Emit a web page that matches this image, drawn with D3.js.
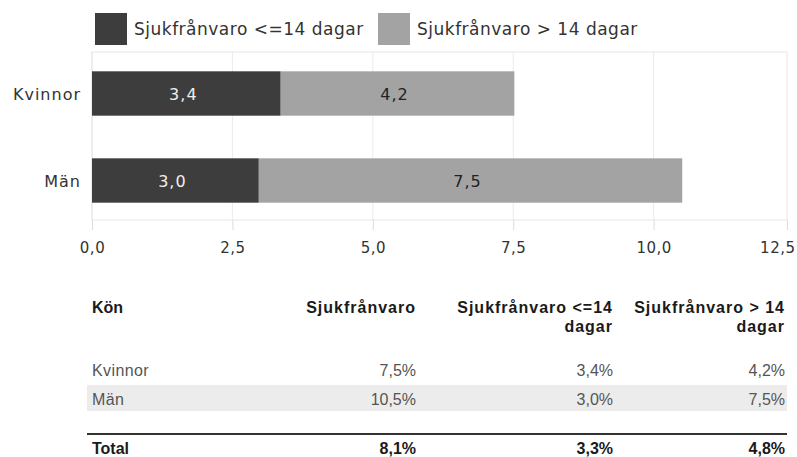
<!DOCTYPE html>
<html>
<head>
<meta charset="utf-8">
<script src="https://cdn.jsdelivr.net/npm/d3@7"></script>
<style>
  body { margin: 0; background: #fff; }
  svg { display: block; }
  .chart-text { font-family: "DejaVu Sans", Verdana, sans-serif; fill: #333; }
  .table-text { font-family: "Liberation Sans", Arial, sans-serif; }
</style>
</head>
<body>
<div id="chart"></div>
<script>
// chart data (bar lengths, labels round them)
var categories = ["Kvinnor", "Män"];
var seriesNames = ["Sjukfrånvaro <=14 dagar", "Sjukfrånvaro > 14 dagar"];
var shortAbsence = [3.36, 2.97];   // <=14 dagar
var longAbsence = [4.16, 7.54];    // > 14 dagar
var xTicks = [0, 2.5, 5, 7.5, 10, 12.5];

// table data
var tableHeaders = [["Kön"], ["Sjukfrånvaro"], ["Sjukfrånvaro <=14", "dagar"], ["Sjukfrånvaro > 14", "dagar"]];
var totalLabel = "Total";
var totalValues = [8.1, 3.3, 4.8];

var svgWidth = 797;
var svgHeight = 457;

var svg = d3.select("#chart")
  .append("svg")
    .attr("width", svgWidth)
    .attr("height", svgHeight);

svg.append("rect")
    .attr("width", svgWidth)
    .attr("height", svgHeight)
    .attr("fill", "#fff");

var sv = d3.formatLocale({decimal: ",", thousands: " ", grouping: [3], currency: ["", " kr"]});
var fmt = sv.format(".1f");
var pct = d => fmt(d) + "%";

var colors = ["#3d3d3d", "#a3a3a3"];

// plot frame
var plot = {left: 92, right: 787, top: 52, bottom: 220};

var x = d3.scaleLinear()
    .domain([0, 12.5])
    .range([plot.left, 794]);

var y = d3.scaleBand()
    .domain(categories)
    .range([50, 224])
    .paddingInner(0.49)
    .paddingOuter(0.245);

// legend
var legend = svg.append("g");
var legendX = [95, 378];
seriesNames.forEach((name, i) => {
    legend.append("rect")
        .attr("x", legendX[i])
        .attr("y", 13)
        .attr("width", 32)
        .attr("height", 32)
        .attr("fill", colors[i]);
    legend.append("text")
        .attr("class", "chart-text")
        .attr("x", legendX[i] + 39)
        .attr("y", 35)
        .attr("font-size", 17)
        .attr("letter-spacing", 0.5)
        .text(name);
});

// gridlines
svg.append("g").selectAll("line")
  .data(xTicks.filter(t => x(t) <= plot.right))
  .enter().append("line")
    .attr("x1", d => x(d)).attr("x2", d => x(d))
    .attr("y1", plot.top).attr("y2", plot.bottom)
    .attr("stroke", "#ebebeb");

svg.append("rect")
    .attr("x", plot.left)
    .attr("y", plot.top)
    .attr("width", plot.right - plot.left)
    .attr("height", plot.bottom - plot.top)
    .attr("fill", "none")
    .attr("stroke", "#e6e6e6");

// bottom axis
var bottomAxis = d3.axisBottom(x)
    .tickValues(xTicks)
    .tickFormat(fmt)
    .tickSize(10)
    .tickPadding(12);

var axisG = svg.append("g")
    .attr("transform", `translate(0,${plot.bottom})`)
    .call(bottomAxis);
axisG.select(".domain").remove();
axisG.selectAll("line").attr("stroke", "#dcdcdc");
axisG.selectAll("text")
    .attr("class", "chart-text")
    .attr("font-size", 15)
    .attr("letter-spacing", 0.5)
    .attr("fill", "#333");
// keep the last label inside the picture
axisG.selectAll(".tick").filter(d => d === 12.5).select("text")
    .attr("text-anchor", "end")
    .attr("dx", 1);
axisG.selectAll(".tick").filter(d => d === 12.5).select("line").attr("x1", -7).attr("x2", -7);

// stacked bars
var rows = categories.map((c, i) => ({cat: c, short: shortAbsence[i], long: longAbsence[i]}));
var stack = d3.stack().keys(["short", "long"])(rows);

var barG = svg.append("g");
stack.forEach((layer, li) => {
    barG.selectAll(".bar" + li).data(layer)
      .enter().append("rect")
        .attr("x", d => x(d[0]))
        .attr("y", d => y(d.data.cat))
        .attr("width", d => x(d[1]) - x(d[0]))
        .attr("height", y.bandwidth())
        .attr("fill", colors[li]);

    barG.selectAll(".lab" + li).data(layer)
      .enter().append("text")
        .attr("class", "chart-text")
        .attr("x", d => (x(d[0]) + x(d[1])) / 2 - 3)
        .attr("y", d => y(d.data.cat) + y.bandwidth() / 2 + 6)
        .attr("text-anchor", "middle")
        .attr("font-size", 16)
        .attr("letter-spacing", 1)
        .style("fill", li === 0 ? "#eeeeee" : "#222")
        .text(d => fmt(d[1] - d[0]));
});

// category labels
svg.append("g").selectAll("text").data(categories)
  .enter().append("text")
    .attr("class", "chart-text")
    .attr("x", 81)
    .attr("y", d => y(d) + y.bandwidth() / 2 + 6)
    .attr("text-anchor", "end")
    .attr("font-size", 16)
    .attr("letter-spacing", 1)
    .text(d => d);

// table
var colRight = [null, 416, 613, 785];
var colLeft = 92;
var table = svg.append("g");

tableHeaders.forEach((lines, ci) => {
    lines.forEach((line, li) => {
        table.append("text")
            .attr("class", "table-text")
            .attr("x", ci === 0 ? colLeft : colRight[ci])
            .attr("y", 313 + li * 19)
            .attr("text-anchor", ci === 0 ? "start" : "end")
            .attr("font-size", 16)
            .attr("font-weight", "bold")
            .attr("letter-spacing", ci === 0 ? 0 : 1)
            .attr("fill", "#1a1a1a")
            .text(line);
    });
});

var rowBase = [376, 405];

// shaded band behind second row
table.append("rect")
    .attr("x", 87)
    .attr("y", 385)
    .attr("width", 700)
    .attr("height", 26)
    .attr("fill", "#ececec");

categories.forEach((c, ri) => {
    var vals = [shortAbsence[ri] + longAbsence[ri], shortAbsence[ri], longAbsence[ri]];
    table.append("text")
        .attr("class", "table-text")
        .attr("x", colLeft)
        .attr("y", rowBase[ri])
        .attr("font-size", 16)
        .attr("letter-spacing", 0.4)
        .attr("fill", "#555")
        .text(c);
    vals.forEach((v, vi) => {
        table.append("text")
            .attr("class", "table-text")
            .attr("x", colRight[vi + 1])
            .attr("y", rowBase[ri])
            .attr("text-anchor", "end")
            .attr("font-size", 16)
            .attr("fill", "#555")
            .text(pct(v));
    });
});

table.append("line")
    .attr("x1", 87).attr("x2", 787)
    .attr("y1", 434).attr("y2", 434)
    .attr("stroke", "#333")
    .attr("stroke-width", 2);

table.append("text")
    .attr("class", "table-text")
    .attr("x", colLeft)
    .attr("y", 454)
    .attr("font-size", 16)
    .attr("font-weight", "bold")
    .attr("fill", "#1a1a1a")
    .text(totalLabel);

totalValues.forEach((v, vi) => {
    table.append("text")
        .attr("class", "table-text")
        .attr("x", colRight[vi + 1])
        .attr("y", 454)
        .attr("text-anchor", "end")
        .attr("font-size", 16)
        .attr("font-weight", "bold")
        .attr("fill", "#1a1a1a")
        .text(pct(v));
});
</script>
</body>
</html>
